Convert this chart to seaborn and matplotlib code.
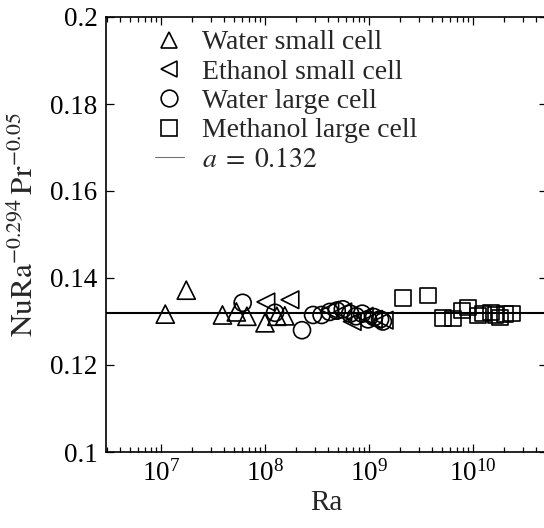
import numpy as np
import pandas as pd
import matplotlib
matplotlib.use("Agg")
import matplotlib.pyplot as plt
from matplotlib.lines import Line2D
from matplotlib.ticker import LogLocator, LogFormatterMathtext, FixedLocator, FuncFormatter, NullFormatter
import seaborn as sns

# Water, small cell
ra_water_small = [1.1e7, 1.75e7, 3.9e7, 5.3e7, 6.7e7, 1.0e8, 1.3e8, 1.55e8]
nu_water_small = [0.1317, 0.1372, 0.1315, 0.1322, 0.1312, 0.1297, 0.1312, 0.1313]

# Ethanol, small cell
ra_ethanol_small = [1.02e8, 1.74e8, 4.2e8, 5.6e8, 6.9e8, 9.0e8, 1.1e9, 1.4e9]
nu_ethanol_small = [0.1345, 0.1350, 0.1326, 0.1322, 0.1300, 0.1312, 0.1305, 0.1303]

# Water, large cell
ra_water_large = [6.1e7, 1.25e8, 2.27e8, 2.9e8, 3.5e8, 4.2e8, 4.9e8, 5.6e8,
                  6.6e8, 7.5e8, 8.6e8, 9.8e8, 1.12e9, 1.28e9, 1.36e9]
nu_water_large = [0.1343, 0.1320, 0.1280, 0.1315, 0.1315, 0.1322, 0.1325, 0.1328,
                  0.1318, 0.1312, 0.1318, 0.1305, 0.1310, 0.1305, 0.1300]

# Methanol, large cell
ra_methanol_large = [2.12e9, 3.69e9, 5.15e9, 6.43e9, 7.84e9, 8.95e9, 1.12e10,
                     1.25e10, 1.49e10, 1.66e10, 1.82e10, 2.03e10, 2.37e10]
nu_methanol_large = [0.1354, 0.1359, 0.1308, 0.1306, 0.1325, 0.1333, 0.1313,
                     0.1318, 0.1320, 0.1315, 0.1310, 0.1317, 0.1318]

series_labels = ["Water small cell", "Ethanol small cell",
                 "Water large cell", "Methanol large cell"]
fit_a = 0.132

y_ticks = [0.1, 0.12, 0.14, 0.16, 0.18, 0.2]

frames = []
for lab, ra, nu in zip(series_labels,
                       [ra_water_small, ra_ethanol_small, ra_water_large, ra_methanol_large],
                       [nu_water_small, nu_ethanol_small, nu_water_large, nu_methanol_large]):
    frames.append(pd.DataFrame({"Ra": ra, "val": nu, "case": lab}))
df = pd.concat(frames, ignore_index=True)

sns.set_theme(style="ticks")
plt.rcParams["font.family"] = ["Liberation Serif", "DejaVu Serif"]
plt.rcParams["mathtext.fontset"] = "stix"
plt.rcParams["xtick.direction"] = "in"
plt.rcParams["ytick.direction"] = "in"

fs = 19.5
fig = plt.figure(figsize=(5.44, 5.28), dpi=100)
ax = fig.add_axes([106 / 544, 76 / 528, 441 / 544, 435 / 528])

marker_map = {"Water small cell": ("^", 170),
              "Ethanol small cell": ("<", 160),
              "Water large cell": ("o", 150),
              "Methanol large cell": ("s", 120)}

for lab in series_labels:
    m, s = marker_map[lab]
    sub = df[df["case"] == lab]
    sns.scatterplot(data=sub, x="Ra", y="val", marker=m, s=s, ax=ax,
                    facecolor="none", edgecolor="black", linewidth=1.2,
                    legend=False, zorder=3)

ax.axhline(fit_a, color="black", lw=1.5, zorder=2)

ax.set_xscale("log")
ax.set_xlim(2.96e6, 5.15e10)
ax.set_ylim(0.1, 0.2)

ax.xaxis.set_major_locator(LogLocator(base=10, numticks=10))
ax.xaxis.set_major_formatter(LogFormatterMathtext())
ax.xaxis.set_minor_locator(LogLocator(base=10, subs=tuple(range(2, 10)), numticks=40))
ax.xaxis.set_minor_formatter(NullFormatter())
ax.yaxis.set_major_locator(FixedLocator(y_ticks))
ax.yaxis.set_major_formatter(FuncFormatter(lambda v, p: f"{v:g}"))

ax.tick_params(axis="both", which="major", labelsize=fs, length=5.5, width=0.9,
               top=True, right=True, pad=6, colors="black")
ax.tick_params(axis="x", which="minor", length=3.5, width=0.9, top=True, bottom=True,
               colors="black")
for sp in ax.spines.values():
    sp.set_linewidth(1.2)
    sp.set_color("black")

ax.set_xlabel("Ra", fontsize=21, labelpad=2)
ax.set_ylabel(r"$\mathrm{NuRa}^{-0.294}\,\mathrm{Pr}^{-0.05}$", fontsize=22.5)
ax.yaxis.set_label_coords(-0.150, 0.522)

handles = []
for lab in series_labels:
    m, s = marker_map[lab]
    handles.append(Line2D([], [], ls="none", marker=m, markersize=12,
                          markerfacecolor="none", markeredgecolor="black",
                          markeredgewidth=1.2))
handles.append(Line2D([], [], color="0.45", lw=0.8))
labels = series_labels + [rf"$a\;=\;{fit_a}$"]

ax.legend(handles, labels, loc="upper left", bbox_to_anchor=(0.11, 0.97),
          frameon=False, fontsize=20, borderpad=0, borderaxespad=0,
          handlelength=1.05, handletextpad=0.65, labelspacing=0.14)

fig.savefig("out.png", dpi=100)
